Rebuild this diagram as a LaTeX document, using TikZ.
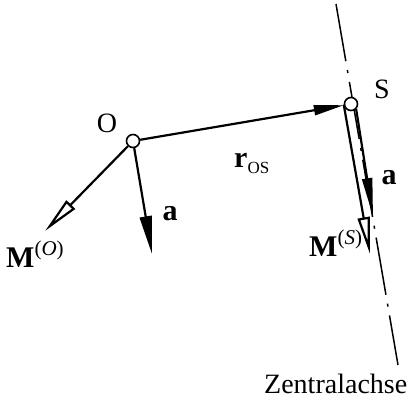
\documentclass[tikz,border=0pt]{standalone}
\usepackage{fontspec}
\setmainfont{Liberation Serif}
\usetikzlibrary{arrows.meta}
\begin{document}
\begin{tikzpicture}[x=1pt,y=-1pt,
  vec/.style={line width=2.2pt},
  fillhead/.style={-{Triangle[length=38pt,width=12pt]}},
  openhead/.style={-{Triangle[open,length=37pt,width=12pt,fill=white]}},
  pt/.style={circle,draw,fill=white,line width=1.6pt,inner sep=0pt,minimum size=13pt},
  lbl/.style={inner sep=0pt,font=\fontsize{28}{30}\selectfont},
  zlbl/.style={inner sep=0pt,font=\fontsize{28}{30}\selectfont},
  blbl/.style={inner sep=0pt,font=\fontsize{30}{32}\selectfont\bfseries},
  axisline/.style={line width=1.5pt,dash pattern=on 58pt off 9pt on 3pt off 9pt}
]
\useasboundingbox (0,0) rectangle (414,399);
% axis
\coordinate (Atop) at (336,4);
\coordinate (Abot) at (398,365);
\draw[axisline] (Atop) -- (Abot);
% points
\node[pt] (O) at (133,141) {};
\node[pt] (S) at (351,104) {};
% free ends
\coordinate (aOtip) at (152,254);
\coordinate (MOtip) at (45,231);
\coordinate (MStip) at (370,254);
\coordinate (aStip) at (373,216);
% vectors
\draw[vec,-{Triangle[length=30pt,width=10pt]}] (O) -- (S);
\draw[vec,fillhead] (O) -- (aOtip);
\draw[vec,openhead] (O) -- (MOtip);
\draw[vec,openhead] (S.185) -- (MStip);
\draw[vec,-{Triangle[length=38pt,width=10pt]}] (S.-45) -- (aStip);
% labels
\node[lbl] (Olbl) at (107,123) {O};
\node[lbl] (Slbl) at (382,89) {S};
\node[blbl] (aO) at (170,214) {a};
\node[blbl] (aS) at (389,178) {a};
\node[blbl,anchor=base west] (rOS) at (234,167) {r\raisebox{-6pt}{\fontsize{17}{18}\selectfont\mdseries OS}};
\node[blbl,anchor=base west] (MO) at (6,267) {M\raisebox{12pt}{\fontsize{21}{22}\selectfont\mdseries(\textit{O})}};
\node[blbl,anchor=base west] (MS) at (309,256) {M\raisebox{12pt}{\fontsize{21}{22}\selectfont\mdseries(\textit{S})}};
\node[zlbl,anchor=base west] (Z) at (264,393) {Zentralachse};
\end{tikzpicture}
\end{document}
